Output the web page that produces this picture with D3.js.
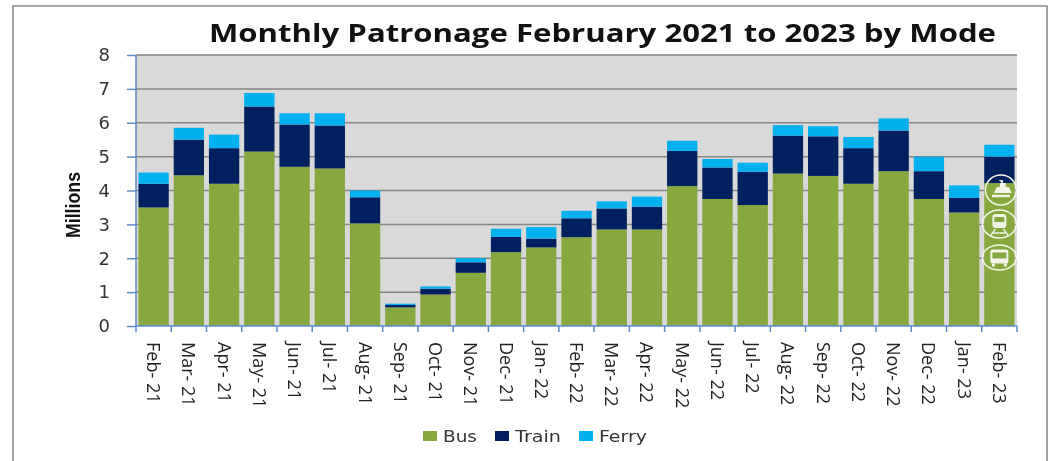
<!DOCTYPE html>
<html><head><meta charset="utf-8">
<script src="https://cdn.jsdelivr.net/npm/d3@7"></script>
<style>html,body{margin:0;padding:0;background:#fff;overflow:hidden}svg{display:block;filter:blur(.5px)}</style>
</head><body><svg id="c" width="1048" height="461"></svg>
<script>
const months=["Feb-21","Mar-21","Apr-21","May-21","Jun-21","Jul-21","Aug-21","Sep-21","Oct-21","Nov-21","Dec-21","Jan-22","Feb-22","Mar-22","Apr-22","May-22","Jun-22","Jul-22","Aug-22","Sep-22","Oct-22","Nov-22","Dec-22","Jan-23","Feb-23"];
const bus=[3.5,4.45,4.2,5.15,4.7,4.65,3.03,0.55,0.93,1.57,2.18,2.32,2.62,2.85,2.85,4.13,3.75,3.57,4.5,4.43,4.2,4.57,3.75,3.35,4.22];
const train=[0.7,1.05,1.05,1.33,1.25,1.27,0.77,0.07,0.17,0.31,0.45,0.26,0.56,0.62,0.67,1.04,0.93,0.98,1.12,1.17,1.05,1.2,0.82,0.43,0.78];
const ferry=[0.33,0.35,0.4,0.4,0.33,0.36,0.2,0.04,0.07,0.12,0.24,0.34,0.22,0.21,0.3,0.3,0.25,0.27,0.31,0.3,0.33,0.36,0.43,0.37,0.35];
const seriesNames=["Bus","Train","Ferry"];
const seriesColors=["#86a83f","#00205f","#00b0ef"];
const yTicks=[0,1,2,3,4,5,6,7,8];
const title="Monthly Patronage February 2021 to 2023 by Mode";
const yLabel="Millions";

const svg=d3.select("#c");
const L=136,R=1017,T=55,B=326;
const x=d3.scaleBand().domain(months).range([L,R]).paddingInner(0.14).paddingOuter(0.07);
const y=d3.scaleLinear().domain([0,8]).range([B,T]);

svg.append("path").attr("d","M13,461V6H1047V461").attr("fill","none").attr("stroke","#8a8a8a").attr("stroke-width",1.6);
svg.append("rect").attr("x",L).attr("y",T).attr("width",R-L).attr("height",B-T).attr("fill","#d9d9d9");
svg.append("g").selectAll("line").data(yTicks.slice(1)).join("line")
 .attr("x1",L).attr("x2",R).attr("y1",d=>y(d)).attr("y2",d=>y(d)).attr("stroke","#868686").attr("stroke-width",1.5);

const rows=months.map((m,i)=>({m,Bus:bus[i],Train:train[i],Ferry:ferry[i]}));
const stacked=d3.stack().keys(seriesNames)(rows);
svg.append("g").selectAll("g").data(stacked).join("g").attr("fill",(d,i)=>seriesColors[i])
 .selectAll("rect").data(d=>d).join("rect")
 .attr("x",d=>x(d.data.m)).attr("width",x.bandwidth())
 .attr("y",d=>y(d[1])).attr("height",d=>y(d[0])-y(d[1]));

const yAxis=svg.append("g").attr("transform",`translate(${L},0)`).call(d3.axisLeft(y).tickValues(yTicks).tickSize(9).tickPadding(17));
yAxis.select(".domain").attr("d",`M0,${T}V${B}`);
yAxis.selectAll("line,path").attr("stroke","#5b8bc9").attr("stroke-width",1.5);
yAxis.selectAll("text").style("font-family","'DejaVu Sans'").style("font-size","18px").attr("fill","#333");
const xAxis=svg.append("g").attr("transform",`translate(0,${B})`);
xAxis.append("line").attr("x1",L).attr("x2",R).attr("stroke","#5b8bc9").attr("stroke-width",1.5);
xAxis.selectAll("line.t").data(d3.range(months.length+1)).join("line").attr("class","t")
 .attr("x1",i=>L+(R-L)*i/months.length).attr("x2",i=>L+(R-L)*i/months.length).attr("y2",6)
 .attr("stroke","#5b8bc9").attr("stroke-width",1.5);
xAxis.selectAll("text").data(months).join("text")
 .attr("transform",d=>`translate(${x(d)+x.bandwidth()/2},16) rotate(90)`)
 .attr("dy","0.36em").style("font-family","'Open Sans'").style("font-size","18px").attr("fill","#222").text(d=>d.replace("-","- "));

svg.append("text").attr("x",209).attr("y",42).attr("textLength",787).attr("lengthAdjust","spacingAndGlyphs")
 .style("font-family","'Open Sans'").style("font-size","25px").style("font-weight",700).attr("fill","#111").text(title);
svg.append("text").attr("transform","translate(80,238) rotate(-90)").attr("textLength",66).attr("lengthAdjust","spacingAndGlyphs")
 .style("font-family","'Liberation Sans Narrow','Liberation Sans'").style("font-size","21px").style("font-weight",700).attr("fill","#111").text(yLabel);

const lx=[423,495,579];
const lw=[34,46,48];
const lg=svg.append("g").selectAll("g").data(seriesNames).join("g").attr("transform",(d,i)=>`translate(${lx[i]},436)`);
lg.append("rect").attr("y",-5).attr("width",14).attr("height",10).attr("fill",(d,i)=>seriesColors[i]);
lg.append("text").attr("x",20).attr("dy","0.36em").attr("textLength",(d,i)=>lw[i]).attr("lengthAdjust","spacingAndGlyphs")
 .style("font-family","'DejaVu Sans'").style("font-size","15.5px").attr("fill","#333").text(d=>d);

const ic=x("Feb-23")+x.bandwidth()/2;
const white="#f1f4e6";
const icons=svg.append("g").attr("fill","none").attr("stroke",white).attr("stroke-width",1.5);
const iconY=[190,224,257.5], iconRx=[15.5,17,17], iconRy=[15,14,12.5], iconDx=[1.5,0,0];
iconY.forEach((cy,i)=>{
 const g=icons.append("g").attr("transform",`translate(${ic+iconDx[i]},${cy})`);
 g.append("ellipse").attr("rx",iconRx[i]).attr("ry",iconRy[i]);
 if(i==0){
  g.append("path").attr("fill",white).attr("stroke","none").attr("d","M-2,-10h4v3h3v4h3l3,6h-18l3,-6h3v-4h2z");
  g.append("path").attr("stroke-width",2.5).attr("d","M-9,6H9");
 } else if(i==1){
  g.append("rect").attr("x",-7).attr("y",-10).attr("width",14).attr("height",14).attr("rx",3).attr("fill",white).attr("stroke","none");
  g.append("rect").attr("x",-5).attr("y",-7).attr("width",10).attr("height",5).attr("fill","#86a83f").attr("stroke","none");
  g.append("path").attr("d","M-4,5L-9,12M4,5L9,12M-6,9H6");
 } else {
  g.append("rect").attr("x",-9).attr("y",-8).attr("width",18).attr("height",14).attr("rx",2).attr("fill",white).attr("stroke","none");
  g.append("rect").attr("x",-7).attr("y",-5).attr("width",14).attr("height",6).attr("fill","#86a83f").attr("stroke","none");
  g.append("path").attr("stroke-width",3).attr("d","M-6,6V9M6,6V9");
 }
});
</script></body></html>
